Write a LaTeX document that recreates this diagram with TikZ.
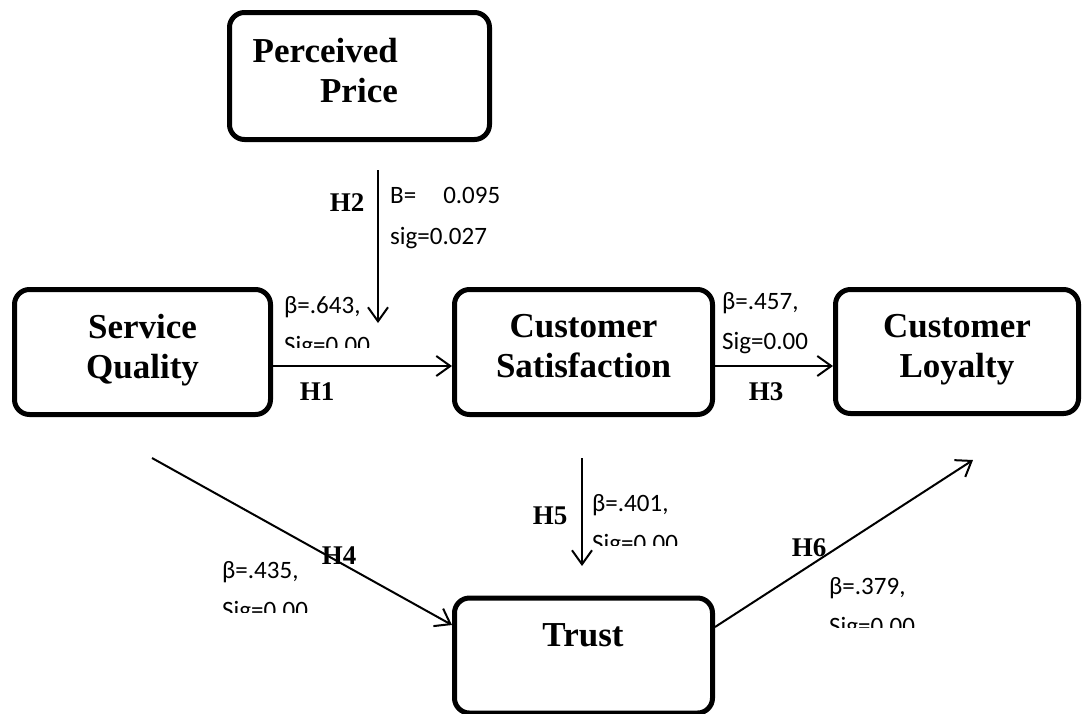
\documentclass[tikz,border=0pt]{standalone}
\usepackage{fontspec}
\setmainfont{Liberation Serif}
\newfontfamily\numfont{Carlito}
\usetikzlibrary{arrows.meta,calc}
\begin{document}
\begin{tikzpicture}[x=1pt,y=-1pt,
  box/.style={draw,line width=5pt,rounded corners=15pt,inner sep=0pt,align=center,
    font=\fontsize{35}{40}\selectfont\bfseries,text depth=12pt},
  boxtext/.style={inner sep=0pt,font=\fontsize{35}{40}\selectfont\bfseries},
  hyp/.style={inner sep=0pt,anchor=base,font=\fontsize{27}{27}\selectfont\bfseries},
  num/.style={inner sep=0pt,anchor=base west,font=\fontsize{25}{25}\selectfont\numfont},
  link/.style={line width=2pt,-{Straight Barb[length=14pt,width=20pt]}}
]
\useasboundingbox (0,0) rectangle (1083,713);

% boxes
\node[box,minimum width=260pt,minimum height=127pt] (pp) at (359.5,76) {};
\node[boxtext,align=right,anchor=north east] (ppt) at (398,38) {Perceived\\Price};
\node[box,minimum width=256pt,minimum height=125pt] (sq) at (142.5,352) {Service\\Quality};
\node[box,minimum width=258pt,minimum height=125pt] (cs) at (583.5,352) {Customer\\Satisfaction};
\node[box,minimum width=243pt,minimum height=124pt] (cl) at (957,351.5) {Customer\\Loyalty};
\node[box,minimum width=258pt,minimum height=115pt] (tr) at (583.5,655.5) {};
\node[boxtext,anchor=base] (trt) at (583,646) {Trust};

% free ends
\coordinate (h2s) at (378,170);
\coordinate (h2e) at (378,323);
\coordinate (h4s) at (152,458);
\coordinate (h5s) at (582,458);
\coordinate (h5e) at (582,566);
\coordinate (h6e) at (973,460);

% connectors
\draw[link] ([yshift=-14pt]sq.east) -- ([yshift=-14pt]cs.west);
\draw[link] ([yshift=-14pt]cs.east) -- ([yshift=-14.5pt]cl.west);
\draw[link] (h2s) -- (h2e);
\draw[link] (h5s) -- (h5e);
\draw[link] (h4s) -- ([yshift=30.5pt]tr.west);
\draw[link] ([yshift=28.5pt]tr.east) -- (h6e);

% hypothesis labels
\node[hyp] (lh1) at (317,400) {H1};
\node[hyp] (lh2) at (347,211) {H2};
\node[hyp] (lh3) at (766,400) {H3};
\node[hyp] (lh4) at (339,564) {H4};
\node[hyp] (lh5) at (550,524) {H5};
\node[hyp] (lh6) at (809,556) {H6};

% coefficients
\node[num] (b2) at (390,203) {B=\hspace{27pt}0.095};
\node[num] (s2) at (390,244) {sig=0.027};
\node[num] (b1) at (284,313) {β=.643,};
\begin{scope}
  \clip (280,320) rectangle (400,347);
  \node[num] (s1) at (284,353) {Sig=0.00};
\end{scope}
\node[num] (b3) at (722,309) {β=.457,};
\node[num] (s3) at (722,349) {Sig=0.00};
\node[num] (b5) at (592,511) {β=.401,};
\begin{scope}
  \clip (585,520) rectangle (700,545);
  \node[num] (s5) at (592,551) {Sig=0.00};
\end{scope}
\node[num] (b4) at (222,578) {β=.435,};
\begin{scope}
  \clip (215,590) rectangle (330,612);
  \node[num] (s4) at (222,618) {Sig=0.00};
\end{scope}
\node[num] (b6) at (829,594) {β=.379,};
\begin{scope}
  \clip (820,605) rectangle (950,627);
  \node[num] (s6) at (829,634) {Sig=0.00};
\end{scope}
\end{tikzpicture}
\end{document}
